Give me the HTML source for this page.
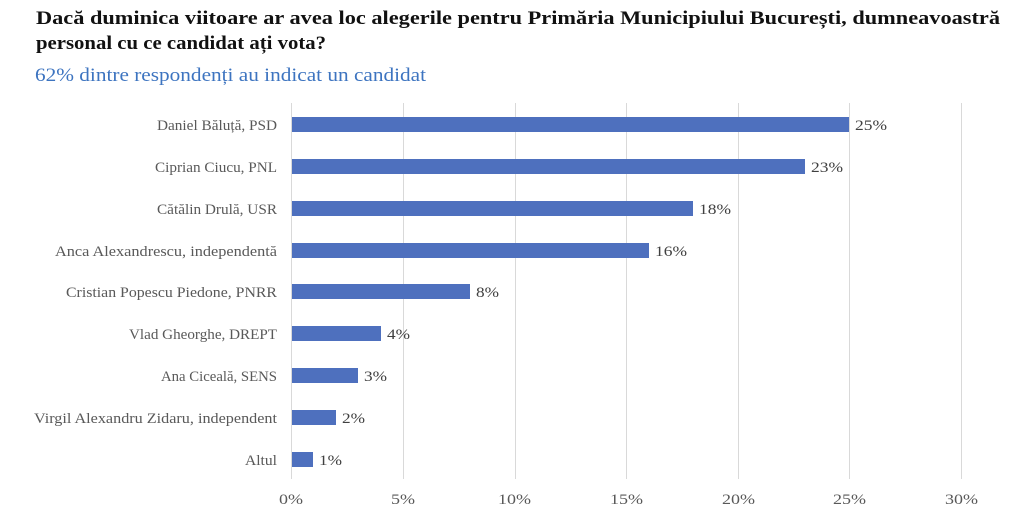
<!DOCTYPE html>
<html><head><meta charset="utf-8"><style>
html,body{margin:0;padding:0;background:#fff;}
text{font-family:"Liberation Serif",serif;}
</style></head><body>
<svg width="1024" height="526" viewBox="0 0 1024 526" xmlns="http://www.w3.org/2000/svg">
<text x="36" y="24" font-size="19" font-weight="bold" fill="#111" textLength="964" lengthAdjust="spacingAndGlyphs">Dacă duminica viitoare ar avea loc alegerile pentru Primăria Municipiului București, dumneavoastră</text>
<text x="36" y="49" font-size="19" font-weight="bold" fill="#111" textLength="290" lengthAdjust="spacingAndGlyphs">personal cu ce candidat ați vota?</text>
<text x="35" y="81" font-size="19" fill="#3d74c0" textLength="391" lengthAdjust="spacingAndGlyphs">62% dintre respondenți au indicat un candidat</text>
<g stroke="#d9d9d9" stroke-width="1">
<line x1="291.5" y1="103" x2="291.5" y2="479"/>
<line x1="403.5" y1="103" x2="403.5" y2="479"/>
<line x1="515.5" y1="103" x2="515.5" y2="479"/>
<line x1="626.5" y1="103" x2="626.5" y2="479"/>
<line x1="738.5" y1="103" x2="738.5" y2="479"/>
<line x1="849.5" y1="103" x2="849.5" y2="479"/>
<line x1="961.5" y1="103" x2="961.5" y2="479"/>
</g>
<g fill="#595959" font-size="15">
<text x="279" y="504" textLength="24" lengthAdjust="spacingAndGlyphs">0%</text>
<text x="391" y="504" textLength="24" lengthAdjust="spacingAndGlyphs">5%</text>
<text x="498" y="504" textLength="33" lengthAdjust="spacingAndGlyphs">10%</text>
<text x="610" y="504" textLength="33" lengthAdjust="spacingAndGlyphs">15%</text>
<text x="722" y="504" textLength="33" lengthAdjust="spacingAndGlyphs">20%</text>
<text x="833" y="504" textLength="33" lengthAdjust="spacingAndGlyphs">25%</text>
<text x="945" y="504" textLength="33" lengthAdjust="spacingAndGlyphs">30%</text>
</g>
<g fill="#4e70be">
<rect x="292" y="117" width="557" height="15"/>
<rect x="292" y="159" width="513" height="15"/>
<rect x="292" y="201" width="401" height="15"/>
<rect x="292" y="243" width="357" height="15"/>
<rect x="292" y="284" width="178" height="15"/>
<rect x="292" y="326" width="89" height="15"/>
<rect x="292" y="368" width="66" height="15"/>
<rect x="292" y="410" width="44" height="15"/>
<rect x="292" y="452" width="21" height="15"/>
</g>
<g fill="#595959" font-size="15" lengthAdjust="spacingAndGlyphs">
<text x="157" y="130" textLength="120" lengthAdjust="spacingAndGlyphs">Daniel Băluță, PSD</text>
<text x="155" y="172" textLength="122" lengthAdjust="spacingAndGlyphs">Ciprian Ciucu, PNL</text>
<text x="157" y="214" textLength="120" lengthAdjust="spacingAndGlyphs">Cătălin Drulă, USR</text>
<text x="55" y="256" textLength="222" lengthAdjust="spacingAndGlyphs">Anca Alexandrescu, independentă</text>
<text x="66" y="297" textLength="211" lengthAdjust="spacingAndGlyphs">Cristian Popescu Piedone, PNRR</text>
<text x="129" y="339" textLength="148" lengthAdjust="spacingAndGlyphs">Vlad Gheorghe, DREPT</text>
<text x="161" y="381" textLength="116" lengthAdjust="spacingAndGlyphs">Ana Ciceală, SENS</text>
<text x="34" y="423" textLength="243" lengthAdjust="spacingAndGlyphs">Virgil Alexandru Zidaru, independent</text>
<text x="245" y="465" textLength="32" lengthAdjust="spacingAndGlyphs">Altul</text>
</g>
<g fill="#404040" font-size="15">
<text x="855" y="130" textLength="32" lengthAdjust="spacingAndGlyphs">25%</text>
<text x="811" y="172" textLength="32" lengthAdjust="spacingAndGlyphs">23%</text>
<text x="699" y="214" textLength="32" lengthAdjust="spacingAndGlyphs">18%</text>
<text x="655" y="256" textLength="32" lengthAdjust="spacingAndGlyphs">16%</text>
<text x="476" y="297" textLength="23" lengthAdjust="spacingAndGlyphs">8%</text>
<text x="387" y="339" textLength="23" lengthAdjust="spacingAndGlyphs">4%</text>
<text x="364" y="381" textLength="23" lengthAdjust="spacingAndGlyphs">3%</text>
<text x="342" y="423" textLength="23" lengthAdjust="spacingAndGlyphs">2%</text>
<text x="319" y="465" textLength="23" lengthAdjust="spacingAndGlyphs">1%</text>
</g>
</svg>
</body></html>
